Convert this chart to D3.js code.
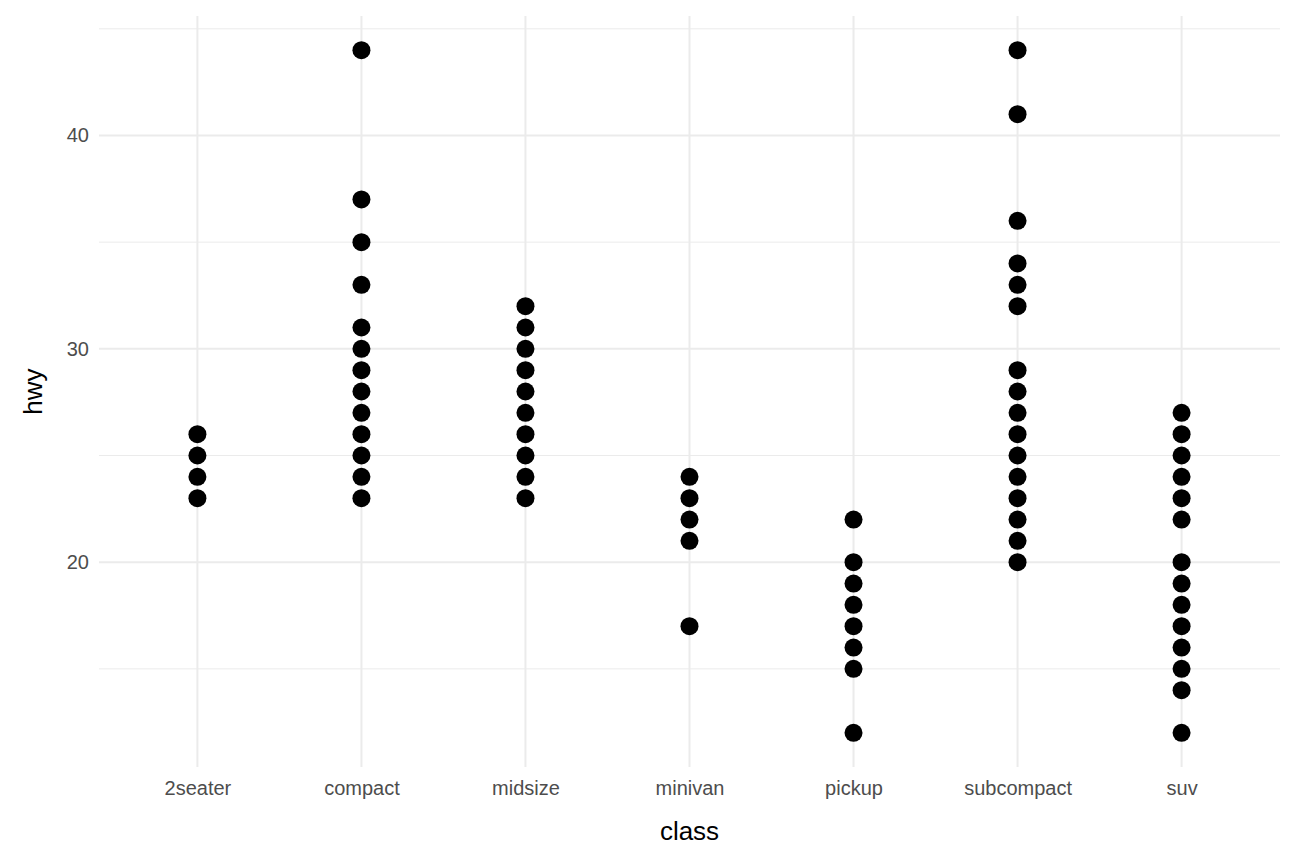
<!DOCTYPE html>
<html>
<head>
<meta charset="utf-8">
<script src="https://cdn.jsdelivr.net/npm/d3@7"></script>
<style>
  body { margin: 0; background: #fff; }
  text { font-family: "Liberation Sans", Arial, sans-serif; }
</style>
</head>
<body>
<div id="chart"></div>
<script>
// Data: hwy values per class
var classes = ["2seater", "compact", "midsize", "minivan", "pickup", "subcompact", "suv"];
var hwy2seater = [23, 24, 25, 26];
var hwyCompact = [23, 24, 25, 26, 27, 28, 29, 30, 31, 33, 35, 37, 44];
var hwyMidsize = [23, 24, 25, 26, 27, 28, 29, 30, 31, 32];
var hwyMinivan = [17, 21, 22, 23, 24];
var hwyPickup = [12, 15, 16, 17, 18, 19, 20, 22];
var hwySubcompact = [20, 21, 22, 23, 24, 25, 26, 27, 28, 29, 32, 33, 34, 36, 41, 44];
var hwySuv = [12, 14, 15, 16, 17, 18, 19, 20, 22, 23, 24, 25, 26, 27];
var yTicks = [20, 30, 40];
var yMinor = [15, 25, 35, 45];

var series = [hwy2seater, hwyCompact, hwyMidsize, hwyMinivan, hwyPickup, hwySubcompact, hwySuv];
var data = [];
classes.forEach(function(c, i) {
  series[i].forEach(function(v) { data.push({ cls: c, hwy: v }); });
});

var svgWidth = 1296, svgHeight = 864;
var margin = { top: 16, right: 16, bottom: 97, left: 99 };
var width = svgWidth - margin.left - margin.right;
var height = svgHeight - margin.top - margin.bottom;

var svg = d3.select("#chart").append("svg")
  .attr("width", svgWidth)
  .attr("height", svgHeight);

var g = svg.append("g")
  .attr("transform", `translate(${margin.left}, ${margin.top})`);

var x = d3.scalePoint().domain(classes).range([0, width]).padding(0.6);
var y = d3.scaleLinear().domain([10.4, 45.6]).range([height, 0]);

// grid
g.selectAll(".minor").data(yMinor.filter(d => y(d) >= 0)).enter().append("line")
  .attr("x1", 0).attr("x2", width)
  .attr("y1", d => y(d)).attr("y2", d => y(d))
  .attr("stroke", "#ebebeb").attr("stroke-width", 1);
g.selectAll(".major").data(yTicks).enter().append("line")
  .attr("x1", 0).attr("x2", width)
  .attr("y1", d => y(d)).attr("y2", d => y(d))
  .attr("stroke", "#ebebeb").attr("stroke-width", 2);
g.selectAll(".vgrid").data(classes).enter().append("line")
  .attr("x1", d => x(d)).attr("x2", d => x(d))
  .attr("y1", 0).attr("y2", height)
  .attr("stroke", "#ebebeb").attr("stroke-width", 2);

// axes
var yAxis = g.append("g").call(d3.axisLeft(y).tickValues(yTicks).tickSize(0).tickPadding(10));
var xAxis = g.append("g").attr("transform", `translate(0, ${height})`)
  .call(d3.axisBottom(x).tickSize(0).tickPadding(14));
[xAxis, yAxis].forEach(function(a) {
  a.select(".domain").remove();
  a.selectAll("text").attr("font-size", "20px").attr("fill", "#4d4d4d")
    .attr("font-family", "Liberation Sans, Arial, sans-serif");
});

// points
g.selectAll("circle").data(data).enter().append("circle")
  .attr("cx", d => x(d.cls))
  .attr("cy", d => y(d.hwy))
  .attr("r", 9)
  .attr("fill", "#000");

// axis titles
svg.append("text")
  .attr("x", margin.left + width / 2).attr("y", 840)
  .attr("text-anchor", "middle").attr("font-size", "26px")
  .text("class");
svg.append("text")
  .attr("transform", `translate(42, ${margin.top + height / 2}) rotate(-90)`)
  .attr("text-anchor", "middle").attr("font-size", "26px")
  .text("hwy");
</script>
</body>
</html>
